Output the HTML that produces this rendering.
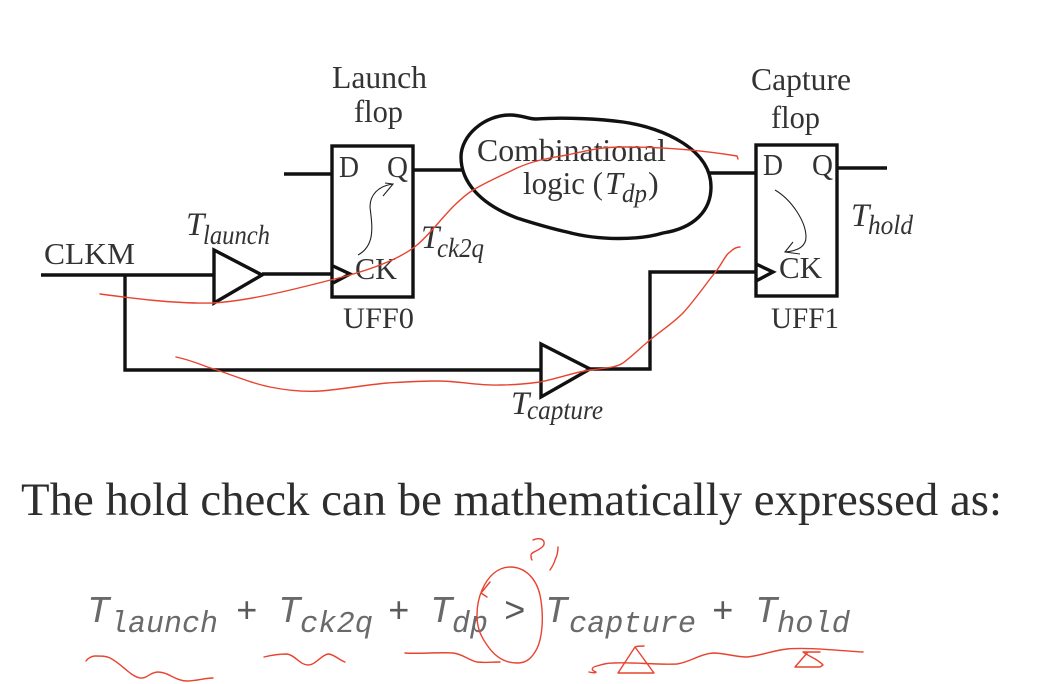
<!DOCTYPE html>
<html>
<head>
<meta charset="utf-8">
<style>
html,body{margin:0;padding:0;background:#fff;width:1054px;height:684px;overflow:hidden}
svg{display:block}
.s{font-family:"Liberation Serif",serif;fill:#333}
.i{font-family:"Liberation Serif",serif;font-style:italic;fill:#333}
.m{font-family:"Liberation Mono",monospace;font-style:italic;fill:#6a6a6a}
.p{font-family:"Liberation Mono",monospace;fill:#5a5a5a}
.k{fill:none;stroke:#111;stroke-width:3.4;stroke-linejoin:miter}
.r{fill:none;stroke:#e8432f;stroke-width:1.4;stroke-linecap:round;stroke-linejoin:round}
</style>
</head>
<body>
<svg width="1054" height="684" viewBox="0 0 1054 684" xmlns="http://www.w3.org/2000/svg">
<rect width="1054" height="684" fill="#fff"/>
<!-- flops -->
<rect class="k" x="332" y="146" width="81" height="151"/>
<rect class="k" x="756" y="145" width="81" height="151"/>
<!-- wires -->
<path class="k" d="M284 174H331M413 170H462M41 275H215M262 274H333M125 275V370H541M590 369H650V272H757M710 173H756M837 168H887"/>
<!-- buffers -->
<path class="k" d="M214 250L262 275L214 303Z"/>
<path class="k" d="M541 344L590 369L541 397Z"/>
<!-- clock marks -->
<path class="k" d="M333 266L350 274L333 283"/>
<path class="k" d="M756 264L773 272L756 281"/>
<!-- logic blob -->
<path class="k" d="M461 157C461 135 485 115 510 115C522 115 528 119 536 119C565 117 600 119 623 122C665 128 711 150 711 187C711 210 695 228 663 233C640 240 600 241 567 232C545 227 530 222 517 218C480 204 461 182 461 157Z"/>
<!-- thin arrows -->
<path fill="none" stroke="#222" stroke-width="1.1" d="M358 255C376 245 372 225 370 207C370 195 378 186 393 184M385 183L393 184L383 196"/>
<path fill="none" stroke="#222" stroke-width="1.1" d="M775 190C792 200 806 222 806 237C806 247 797 251 785 252M793 242L785 252L800 254"/>
<!-- labels -->
<text class="s" x="332" y="88" font-size="32" textLength="95" lengthAdjust="spacingAndGlyphs">Launch</text>
<text class="s" x="354" y="122" font-size="32" textLength="49" lengthAdjust="spacingAndGlyphs">flop</text>
<text class="s" x="751" y="90" font-size="32" textLength="100" lengthAdjust="spacingAndGlyphs">Capture</text>
<text class="s" x="771" y="128" font-size="32" textLength="49" lengthAdjust="spacingAndGlyphs">flop</text>
<text class="s" x="44" y="264" font-size="31" textLength="91" lengthAdjust="spacingAndGlyphs">CLKM</text>
<text class="s" x="339" y="177" font-size="31" textLength="20" lengthAdjust="spacingAndGlyphs">D</text>
<text class="s" x="387" y="177" font-size="31" textLength="21" lengthAdjust="spacingAndGlyphs">Q</text>
<text class="s" x="355" y="279" font-size="31" textLength="42" lengthAdjust="spacingAndGlyphs">CK</text>
<text class="s" x="343" y="328" font-size="30" textLength="71" lengthAdjust="spacingAndGlyphs">UFF0</text>
<text class="s" x="763" y="175" font-size="31" textLength="20" lengthAdjust="spacingAndGlyphs">D</text>
<text class="s" x="812" y="175" font-size="31" textLength="21" lengthAdjust="spacingAndGlyphs">Q</text>
<text class="s" x="779" y="278" font-size="31" textLength="43" lengthAdjust="spacingAndGlyphs">CK</text>
<text class="s" x="771" y="328" font-size="30" textLength="68" lengthAdjust="spacingAndGlyphs">UFF1</text>
<text class="s" x="477" y="161" font-size="32" textLength="189" lengthAdjust="spacingAndGlyphs">Combinational</text>
<text class="s" x="523" y="194" font-size="32" textLength="80" lengthAdjust="spacingAndGlyphs">logic (</text>
<text class="i" x="605" y="194" font-size="32">T</text>
<text class="i" x="622" y="202" font-size="26" textLength="25" lengthAdjust="spacingAndGlyphs">dp</text>
<text class="s" x="648" y="194" font-size="32">)</text>
<text class="i" x="186" y="235" font-size="33">T</text>
<text class="i" x="203" y="244" font-size="27" textLength="67" lengthAdjust="spacingAndGlyphs">launch</text>
<text class="i" x="421" y="248" font-size="33">T</text>
<text class="i" x="437" y="257" font-size="27" textLength="47" lengthAdjust="spacingAndGlyphs">ck2q</text>
<text class="i" x="851" y="226" font-size="33">T</text>
<text class="i" x="868" y="234" font-size="27" textLength="45" lengthAdjust="spacingAndGlyphs">hold</text>
<text class="i" x="511" y="414" font-size="33">T</text>
<text class="i" x="527" y="419" font-size="27" textLength="76" lengthAdjust="spacingAndGlyphs">capture</text>
<!-- sentence -->
<text class="s" x="21" y="515" font-size="47" textLength="981" lengthAdjust="spacingAndGlyphs" style="fill:#2e2e2e">The hold check can be mathematically expressed as:</text>
<!-- formula -->
<text class="m" x="87" y="622" font-size="38">T</text>
<text class="m" x="110" y="632" font-size="31" textLength="108" lengthAdjust="spacingAndGlyphs">launch</text>
<text class="p" x="236" y="622" font-size="36">+</text>
<text class="m" x="278" y="622" font-size="38">T</text>
<text class="m" x="300" y="632" font-size="31" textLength="73" lengthAdjust="spacingAndGlyphs">ck2q</text>
<text class="p" x="388" y="622" font-size="36">+</text>
<text class="m" x="430" y="622" font-size="38">T</text>
<text class="m" x="452" y="632" font-size="31" textLength="36" lengthAdjust="spacingAndGlyphs">dp</text>
<text class="p" x="504" y="622" font-size="36">&gt;</text>
<text class="m" x="545" y="622" font-size="38">T</text>
<text class="m" x="569" y="632" font-size="31" textLength="127" lengthAdjust="spacingAndGlyphs">capture</text>
<text class="p" x="712" y="622" font-size="36">+</text>
<text class="m" x="755" y="622" font-size="38">T</text>
<text class="m" x="777" y="632" font-size="31" textLength="73" lengthAdjust="spacingAndGlyphs">hold</text>
<!-- red annotations -->
<path class="r" d="M100 294C130 298 175 304 213 303C250 301 300 288 350 275C385 265 405 255 417 245C435 230 450 205 473 190C490 180 505 174 517 168C535 160 550 158 567 155C590 150 600 147 625 147C660 147 700 150 737 156L738 159"/>
<path class="r" d="M176 357C195 361 205 367 217 370C240 378 255 384 270 387C290 391 305 392 320 391C345 389 365 385 387 383C405 382 420 381 437 381C460 381 480 386 500 385C515 385 525 384 540 382C560 378 575 372 590 370C605 368 615 368 623 363C635 354 640 348 650 340C662 330 672 324 683 313C695 300 705 285 717 270C723 262 726 254 730 252C734 248 737 247 740 247"/>
<path class="r" d="M86 661C88 658 92 656 95 656C102 656 106 656 110 658C122 664 130 676 140 678C147 679 150 672 158 672C168 672 176 681 187 681C196 681 205 678 213 678"/>
<path class="r" d="M264 657C272 655 280 654 287 654C295 655 300 665 308 665C316 665 322 654 329 654C335 655 339 660 345 662"/>
<path class="r" d="M405 653C420 654 440 652 453 653C463 654 468 660 477 662C485 663 492 662 500 662"/>
<path class="r" d="M482 590C488 576 498 567 510 567C525 567 536 578 540 595C544 615 543 640 535 652C530 660 525 663 517 663C505 663 495 657 487 645C479 634 477 625 477 615C477 605 479 597 482 590M490 582L481 593L487 597"/>
<path class="r" d="M533 540C537 538 543 538 544 542C545 546 541 548 538 550C534 552 531 553 531 555C531 557 531 559 532 560"/>
<path class="r" d="M558 547C558 552 557 556 555 560C554 564 552 567 550 570"/>
<path class="r" d="M589 672C594 673 596 673 596 672C590 670 592 667 597 666C603 664 608 663 613 663C635 662 655 665 677 664C690 662 700 654 713 653C725 653 735 657 747 657C760 656 770 651 787 649C810 647 840 651 863 652"/>
<path class="r" d="M644 646C640 646 637 646 635 647L618 673H654L635 647"/>
<path class="r" d="M820 652H803C808 656 818 659 823 665L820 667H795L808 652"/>
</svg>
</body>
</html>
